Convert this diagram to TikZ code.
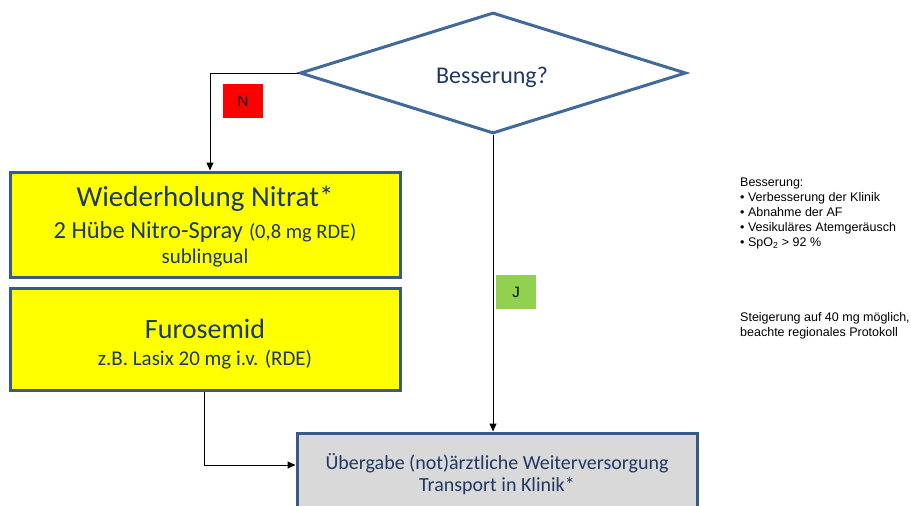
\documentclass[tikz,border=0pt]{standalone}
\usepackage{fontspec}
\setmainfont{Carlito}
\newfontfamily\arialf{Liberation Sans}
\usetikzlibrary{shapes.geometric,arrows.meta}
\definecolor{txtblue}{RGB}{31,56,100}
\definecolor{bordblue}{RGB}{65,105,155}
\definecolor{boxbord}{RGB}{56,90,135}
\definecolor{boxyellow}{RGB}{255,255,0}
\definecolor{boxgray}{RGB}{217,217,217}
\definecolor{jgreen}{RGB}{146,208,80}
\tikzset{
  decision/.style={diamond,draw=bordblue,line width=3pt,fill=white,inner sep=0pt,
     minimum width=386pt,minimum height=121pt,aspect=3.19},
  yellowbox/.style={rectangle,draw=boxbord,line width=3pt,fill=boxyellow,inner sep=0pt,
     minimum width=390pt},
  graybox/.style={rectangle,draw=boxbord,line width=3pt,fill=boxgray,inner sep=0pt,
     minimum width=400pt,minimum height=80pt},
  lbl/.style={anchor=base,inner sep=0pt,text=txtblue},
  tag/.style={rectangle,inner sep=0pt,minimum width=40pt,minimum height=34pt,font=\arialf\fontsize{15}{18}\selectfont},
  conn/.style={draw=black,line width=1pt,-{Triangle[length=8pt,width=7pt]}},
  note/.style={align=left,anchor=north west,inner sep=0pt,font=\arialf\fontsize{12.5}{15}\selectfont,text=black}
}
\begin{document}
\begin{tikzpicture}[x=1pt,y=1pt]
\useasboundingbox (0,0) rectangle (911,-506);
\node[decision] (dec) at (493,-73) {};
\node[lbl,font=\fontsize{24}{28}\selectfont] (dect) at (492,-83) {Besserung?};
\node[yellowbox,minimum height=105pt] (nit) at (205,-224.5) {};
\node[lbl,font=\fontsize{29}{32}\selectfont] (nit1) at (205,-206) {Wiederholung Nitrat*};
\node[lbl] (nit2) at (205,-238) {{\fontsize{24.5}{26}\selectfont 2 Hübe Nitro-Spray}\hspace{6pt}{\fontsize{20.5}{22}\selectfont (0,8 mg RDE)}};
\node[lbl,font=\fontsize{21}{24}\selectfont] (nit3) at (205,-263) {sublingual};
\node[yellowbox,minimum height=102pt] (fur) at (205,-339) {};
\node[lbl,font=\fontsize{28}{32}\selectfont] (fur1) at (205,-338) {Furosemid};
\node[lbl,font=\fontsize{21}{24}\selectfont] (fur2) at (205,-365) {z.B. Lasix 20 mg i.v. (RDE)};
\node[graybox] (uber) at (497,-473) {};
\node[lbl,font=\fontsize{20}{24}\selectfont] (uber1) at (497,-469) {Übergabe (not)ärztliche Weiterversorgung};
\node[lbl,font=\fontsize{20}{24}\selectfont] (uber2) at (497,-491) {Transport in Klinik*};
\node[tag,fill=red] (ntag) at (243,-101) {N};
\node[tag,fill=jgreen] (jtag) at (516,-292) {J};
\coordinate (c1) at (210,-73);
\coordinate (c2) at (204,-465);
\draw[conn] (dec.west) -- (c1) -- (c1 |- nit.north);
\draw[conn] (dec.south) -- (dec.south |- uber.north);
\draw[conn] (fur.south -| c2) -- (c2) -- (c2 -| uber.west);
\node[note] (n1) at (740,-178) {Besserung:\\
• Verbesserung der Klinik\\
• Abnahme der AF\\
• Vesikuläres Atemgeräusch\\
• SpO\textsubscript{2} > 92 \%};
\node[note] (n2) at (740,-312.5) {Steigerung auf 40 mg möglich,\\beachte regionales Protokoll};
\end{tikzpicture}
\end{document}
